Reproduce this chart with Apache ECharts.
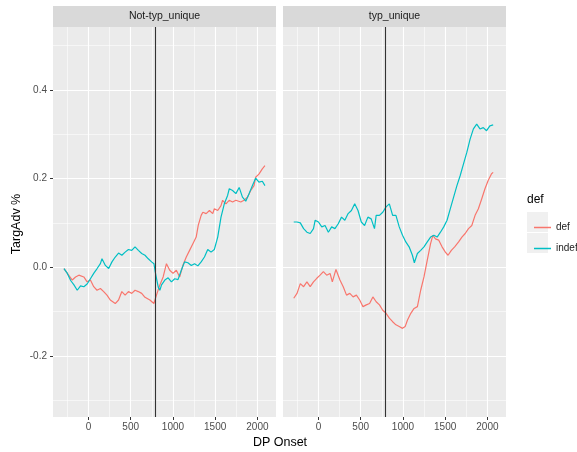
<!DOCTYPE html>
<html>
<head>
<meta charset="utf-8">
<script src="https://cdn.jsdelivr.net/npm/echarts@6/dist/echarts.min.js"></script>
<style>
  html, body { margin: 0; padding: 0; background: #ffffff; }
  #chart { width: 577px; height: 452px; }
</style>
</head>
<body>
<div id="chart"></div>
<script>
// Facets, groups and axis ticks
const panels = ['Not-typ_unique', 'typ_unique'];
const groups = ['def', 'indef'];
const xTicks = [0, 500, 1000, 1500, 2000];
const xMinor = [-250, 250, 750, 1250, 1750];
const yTicks = [-0.2, 0, 0.2, 0.4];
const yMinor = [-0.3, -0.1, 0.1, 0.3, 0.5];
const onsetMarker = 790;

// Not-typ_unique, def
const ntDefOnset = [-290,-250,-192,-153,-114,-55,-16,23,62,101,141,180,219,258,317,356,395,434,473,512,551,590,630,669,727,774,805,845,884,923,962,1001,1040,1080,1119,1158,1197,1236,1275,1300,1334,1354,1393,1432,1471,1490,1530,1569,1588,1627,1666,1706,1745,1803,1842,1882,1921,1960,1979,2018,2058,2089];
const ntDefAdv = [-0.003,-0.014,-0.029,-0.022,-0.018,-0.022,-0.033,-0.029,-0.044,-0.052,-0.048,-0.055,-0.063,-0.074,-0.082,-0.074,-0.055,-0.063,-0.055,-0.059,-0.052,-0.055,-0.059,-0.068,-0.074,-0.082,-0.063,-0.040,-0.022,0.008,-0.007,-0.014,-0.007,-0.022,0.005,0.023,0.038,0.053,0.068,0.095,0.117,0.124,0.121,0.128,0.121,0.132,0.128,0.139,0.151,0.143,0.151,0.147,0.151,0.147,0.151,0.158,0.173,0.184,0.203,0.210,0.222,0.229];

// Not-typ_unique, indef
const ntIndefOnset = [-290,-250,-211,-172,-133,-94,-55,-16,23,62,102,141,160,200,239,278,317,356,395,434,473,512,551,591,630,669,708,747,775,790,805,826,845,865,904,943,982,1021,1060,1099,1138,1177,1217,1256,1295,1334,1373,1412,1451,1490,1530,1569,1608,1647,1667,1706,1745,1784,1823,1862,1901,1940,1979,2018,2058,2089];
const ntIndefAdv = [-0.003,-0.014,-0.030,-0.040,-0.052,-0.042,-0.044,-0.038,-0.026,-0.014,-0.003,0.008,0.019,0.004,-0.003,0.012,0.023,0.032,0.027,0.034,0.040,0.038,0.046,0.038,0.031,0.027,0.019,0.012,0.008,-0.010,-0.025,-0.045,-0.052,-0.040,-0.029,-0.024,-0.033,-0.026,-0.028,-0.007,0.012,0.010,0.004,0.008,0.003,0.012,0.023,0.040,0.034,0.040,0.068,0.113,0.143,0.162,0.177,0.173,0.166,0.180,0.158,0.149,0.166,0.184,0.201,0.192,0.194,0.184];

// typ_unique, def
const tuDefOnset = [-293,-254,-215,-176,-137,-98,-59,-20,19,58,97,137,164,207,254,293,332,371,410,449,488,527,566,605,644,683,722,761,800,839,878,917,956,995,1026,1054,1093,1132,1171,1210,1249,1288,1327,1354,1385,1424,1463,1502,1534,1573,1612,1659,1698,1737,1776,1815,1854,1893,1932,1971,2010,2049,2068];
const tuDefAdv = [-0.070,-0.059,-0.037,-0.044,-0.033,-0.044,-0.033,-0.025,-0.018,-0.010,-0.018,-0.014,-0.033,-0.005,-0.029,-0.044,-0.063,-0.059,-0.067,-0.063,-0.074,-0.089,-0.085,-0.082,-0.067,-0.078,-0.085,-0.097,-0.104,-0.115,-0.123,-0.130,-0.134,-0.138,-0.134,-0.119,-0.104,-0.093,-0.089,-0.052,-0.022,0.016,0.053,0.072,0.064,0.061,0.046,0.034,0.027,0.038,0.046,0.057,0.068,0.076,0.087,0.094,0.117,0.132,0.154,0.177,0.196,0.211,0.214];

// typ_unique, indef
const tuIndefOnset = [-293,-254,-215,-176,-137,-98,-59,-39,0,39,78,117,156,195,234,273,312,351,390,429,468,507,546,585,624,663,683,722,761,800,839,878,917,956,995,1034,1073,1112,1135,1171,1210,1249,1288,1327,1366,1405,1444,1483,1522,1561,1600,1639,1678,1717,1756,1795,1834,1873,1912,1951,1990,2029,2068];
const tuIndefAdv = [0.102,0.102,0.100,0.087,0.079,0.076,0.087,0.106,0.102,0.091,0.094,0.079,0.091,0.087,0.098,0.113,0.106,0.121,0.128,0.143,0.128,0.102,0.094,0.113,0.109,0.087,0.117,0.117,0.124,0.136,0.143,0.117,0.117,0.091,0.072,0.057,0.046,0.027,0.010,0.031,0.038,0.046,0.057,0.068,0.072,0.068,0.079,0.091,0.106,0.132,0.158,0.184,0.207,0.233,0.259,0.289,0.312,0.323,0.312,0.315,0.308,0.319,0.321];

const colors = { def: '#F8766D', indef: '#00BFC4' };
const FONT = 'Liberation Sans, Arial, sans-serif';

const panelLefts = [53, 283];
const panelWidth = 223;
const panelTop = 27;
const panelHeight = 390;
const xRange = [-420, 2220];
const yRange = [-0.338, 0.542];

function pairs(xs, ys) { return xs.map((x, i) => [x, ys[i]]); }

const grids = panelLefts.map(l => ({
  left: l, top: panelTop, width: panelWidth, height: panelHeight,
  show: true, backgroundColor: '#EBEBEB', borderWidth: 0, containLabel: false
}));

function majorX(i) {
  return {
    type: 'value', gridIndex: i, min: xRange[0], max: xRange[1], position: 'bottom',
    axisLine: { show: false, onZero: false },
    axisTick: { show: true, length: 3, customValues: xTicks, lineStyle: { color: '#333333', width: 1 } },
    axisLabel: { customValues: xTicks, color: '#4D4D4D', fontSize: 10, fontFamily: FONT, margin: 5,
                 formatter: v => String(v) },
    splitLine: { show: true, lineStyle: { color: '#FFFFFF', width: 1.1 } }
  };
}
function minorX(i) {
  return {
    type: 'value', gridIndex: i, min: xRange[0], max: xRange[1], position: 'top',
    axisLine: { show: false, onZero: false },
    axisTick: { show: false, customValues: xMinor },
    axisLabel: { show: false, customValues: xMinor },
    splitLine: { show: true, lineStyle: { color: '#FFFFFF', width: 0.55 } }
  };
}
function majorY(i) {
  return {
    type: 'value', gridIndex: i, min: yRange[0], max: yRange[1], position: 'left',
    axisLine: { show: false, onZero: false },
    axisTick: { show: i === 0, length: 3, customValues: yTicks, lineStyle: { color: '#333333', width: 1 } },
    axisLabel: { show: i === 0, customValues: yTicks, color: '#4D4D4D', fontSize: 10, fontFamily: FONT, margin: 6,
                 formatter: v => v.toFixed(1) },
    splitLine: { show: true, lineStyle: { color: '#FFFFFF', width: 1.1 } }
  };
}
function minorY(i) {
  return {
    type: 'value', gridIndex: i, min: yRange[0], max: yRange[1], position: 'right',
    axisLine: { show: false, onZero: false },
    axisTick: { show: false, customValues: yMinor },
    axisLabel: { show: false, customValues: yMinor },
    splitLine: { show: true, lineStyle: { color: '#FFFFFF', width: 0.55 } }
  };
}

const panelData = [
  { def: pairs(ntDefOnset, ntDefAdv), indef: pairs(ntIndefOnset, ntIndefAdv) },
  { def: pairs(tuDefOnset, tuDefAdv), indef: pairs(tuIndefOnset, tuIndefAdv) }
];

const series = [];
panelData.forEach((pd, i) => {
  groups.forEach(g => {
    series.push({
      type: 'line', name: g, xAxisIndex: i, yAxisIndex: i,
      data: pd[g], showSymbol: false, symbol: 'none', silent: true,
      lineStyle: { color: colors[g], width: 1.2 }, itemStyle: { color: colors[g] },
      z: 3
    });
  });
  // vertical onset reference line
  series.push({
    type: 'line', name: 'onset' + i, xAxisIndex: i, yAxisIndex: i, data: [], silent: true,
    markLine: {
      silent: true, symbol: ['none', 'none'], animation: false,
      label: { show: false },
      lineStyle: { color: '#333333', width: 1.1, type: 'solid' },
      data: [{ xAxis: onsetMarker }]
    },
    z: 4
  });
});

const graphic = [];
panelLefts.forEach((l, i) => {
  graphic.push({ type: 'rect', left: l, top: 6, shape: { width: panelWidth, height: 21 }, style: { fill: '#D9D9D9' }, silent: true });
  graphic.push({ type: 'text', x: l + panelWidth / 2, y: 16.5,
    style: { text: panels[i], fill: '#1A1A1A', font: '10.5px ' + FONT, textAlign: 'center', textVerticalAlign: 'middle' }, silent: true });
});
// axis titles
graphic.push({ type: 'text', x: 280, y: 443,
  style: { text: 'DP Onset', fill: '#000000', font: '12.5px ' + FONT, textAlign: 'center', textVerticalAlign: 'middle' }, silent: true });
graphic.push({ type: 'text', x: 17, y: 224, rotation: Math.PI / 2,
  style: { text: 'TargAdv %', fill: '#000000', font: '12.5px ' + FONT, textAlign: 'center', textVerticalAlign: 'middle' }, silent: true });
// legend title and key backgrounds
graphic.push({ type: 'text', x: 527, y: 200,
  style: { text: 'def', fill: '#000000', font: '12px ' + FONT, textAlign: 'left', textVerticalAlign: 'middle' }, silent: true });
graphic.push({ type: 'rect', left: 527, top: 212, shape: { width: 21, height: 20 }, style: { fill: '#F0F0F0' }, silent: true, z: -1 });
graphic.push({ type: 'rect', left: 527, top: 233, shape: { width: 21, height: 20 }, style: { fill: '#F0F0F0' }, silent: true, z: -1 });

const chart = echarts.init(document.getElementById('chart'), null, { renderer: 'canvas' });
chart.setOption({
  animation: false,
  backgroundColor: '#FFFFFF',
  grid: grids,
  xAxis: [majorX(0), majorX(1), minorX(0), minorX(1)],
  yAxis: [majorY(0), majorY(1), minorY(0), minorY(1)],
  legend: {
    data: groups, orient: 'vertical', left: 529, top: 212, itemGap: 0,
    icon: 'rect', itemWidth: 17, itemHeight: 1.5,
    textStyle: { color: '#1A1A1A', fontSize: 10, fontFamily: FONT, lineHeight: 21 },
    selectedMode: false
  },
  graphic: graphic,
  series: series
});
</script>
</body>
</html>
